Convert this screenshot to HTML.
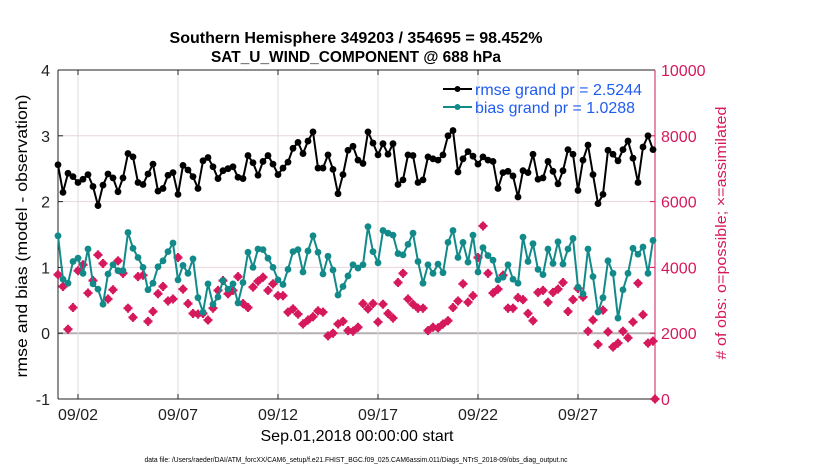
<!DOCTYPE html>
<html><head><meta charset="utf-8"><style>
html,body{margin:0;padding:0;background:#fff;}
svg{display:block;font-family:"Liberation Sans",sans-serif;}
</style></head><body>
<svg id="chart" width="830" height="470" viewBox="0 0 830 470" xmlns="http://www.w3.org/2000/svg">
<text x="356" y="43" text-anchor="middle" font-size="16" font-weight="bold" textLength="373" lengthAdjust="spacingAndGlyphs">Southern Hemisphere 349203 / 354695 = 98.452%</text>
<text x="356" y="62" text-anchor="middle" font-size="16" font-weight="bold" textLength="290" lengthAdjust="spacingAndGlyphs">SAT_U_WIND_COMPONENT @ 688 hPa</text>
<g id="grid"></g>
<g id="axes"></g>
<g id="series"></g>
<text transform="translate(27,236) rotate(-90)" text-anchor="middle" font-size="15.5" textLength="283" lengthAdjust="spacingAndGlyphs">rmse and bias (model - observation)</text>
<text transform="translate(726,233) rotate(-90)" text-anchor="middle" font-size="14.5" fill="#d6185c" textLength="253" lengthAdjust="spacingAndGlyphs"># of obs: o=possible; ×=assimilated</text>
<text x="357" y="441" text-anchor="middle" font-size="16" textLength="193" lengthAdjust="spacingAndGlyphs">Sep.01,2018 00:00:00 start</text>
<text x="356" y="462" text-anchor="middle" font-size="7.5" textLength="423" lengthAdjust="spacingAndGlyphs">data file: /Users/raeder/DAI/ATM_forcXX/CAM6_setup/f.e21.FHIST_BGC.f09_025.CAM6assim.011/Diags_NTrS_2018-09/obs_diag_output.nc</text>
<g>
<line x1="443" y1="89" x2="472" y2="89" stroke="#000" stroke-width="2"/>
<circle cx="457.5" cy="89" r="3" fill="#000"/>
<text x="475" y="95" font-size="16" fill="#1f5cf0" textLength="167" lengthAdjust="spacingAndGlyphs">rmse grand pr = 2.5244</text>
<line x1="443" y1="107" x2="472" y2="107" stroke="#138a8a" stroke-width="2"/>
<circle cx="457.5" cy="107" r="3" fill="#138a8a"/>
<text x="475" y="113" font-size="16" fill="#1f5cf0" textLength="160" lengthAdjust="spacingAndGlyphs">bias grand pr = 1.0288</text>
</g>
</svg>
<script>
const dateTicks = ["09/02","09/07","09/12","09/17","09/22","09/27"];
const dateTickDays = [1,6,11,16,21,26];
const leftTicks = [4,3,2,1,0,-1];
const rightTicks = [10000,8000,6000,4000,2000,0];
const rmse = [2.56,2.14,2.43,2.38,2.29,2.34,2.41,2.23,1.94,2.25,2.42,2.36,2.15,2.36,2.73,2.68,2.29,2.26,2.42,2.57,2.16,2.20,2.40,2.44,2.11,2.55,2.48,2.38,2.20,2.62,2.67,2.53,2.35,2.47,2.50,2.53,2.37,2.35,2.70,2.59,2.40,
2.61,2.70,2.57,2.41,2.51,2.60,2.81,2.90,2.73,2.92,3.06,2.51,2.51,2.71,2.49,2.12,2.41,2.78,2.84,2.63,2.58,3.06,2.89,2.71,2.88,2.72,2.88,2.26,2.33,2.71,2.70,2.29,2.33,2.68,2.65,2.63,2.71,3.00,3.08,2.45,
2.65,2.76,2.69,2.57,2.68,2.63,2.61,2.20,2.44,2.46,2.39,2.07,2.47,2.44,2.72,2.34,2.36,2.61,2.46,2.27,2.47,2.79,2.72,2.17,2.63,2.86,2.41,1.97,2.11,2.78,2.72,2.62,2.79,2.92,2.66,2.29,2.83,3.00,2.79];
const bias = [1.48,0.82,0.76,1.09,1.14,0.91,1.28,0.75,0.67,0.44,0.90,1.04,0.95,0.95,1.53,1.29,1.15,1.00,0.66,0.76,1.01,1.10,1.24,1.37,0.81,1.03,0.91,1.13,0.54,0.32,0.75,0.44,0.55,0.80,0.67,0.75,0.46,0.77,1.23,1.00,1.28,
1.27,1.14,1.00,0.81,0.74,0.97,1.24,1.27,0.93,1.25,1.48,1.23,0.90,1.17,0.96,0.58,0.71,0.87,1.04,0.99,1.04,1.62,1.24,1.07,1.56,1.52,1.49,1.21,1.19,1.35,1.52,1.09,0.76,1.04,0.91,1.05,0.92,1.38,1.56,1.15,
1.38,1.08,1.49,0.93,1.30,1.18,1.11,0.81,0.85,1.04,0.82,0.76,1.46,1.09,1.36,0.97,0.89,1.28,1.06,1.39,1.05,1.28,1.44,0.70,0.60,1.28,0.86,0.32,0.54,1.10,0.91,0.23,0.66,0.91,1.29,1.20,1.31,0.91,1.41];
const obsCount = [3780,3420,2120,2780,3900,4080,3220,3600,4380,4120,3040,3320,4200,3820,2760,2480,3720,3760,2360,2660,3200,3420,2980,3040,4300,3340,2900,2600,2580,2600,2400,2760,3300,3600,3200,3300,3720,2900,2780,3400,3580,
3700,3300,3500,3140,3140,2640,2740,2580,2280,2400,2500,2680,2640,1920,2000,2280,2360,2080,2060,2180,2900,2740,2900,2340,2880,2600,2460,3540,3820,3040,2880,2760,2760,2080,2180,2160,2280,2380,2780,2980,
3500,2940,3140,4300,5260,3820,3220,3340,3760,2760,2760,3080,3020,2600,2380,3240,3300,2940,3240,3340,3540,2660,3020,3360,3100,2060,2400,1660,2700,2040,1580,1700,2060,1860,2340,3520,2560,1700,1760,0];

const X0=58, X1=655, Y0=70, Y1=399, DAYPX=20;
const xDay = d => X0 + d*DAYPX;
const xIdx = i => xDay(Math.min(i*0.25, (X1-X0)/DAYPX));
const yL = v => Y1 - (v+1)/5*(Y1-Y0);
const yR = c => Y1 - c/10000*(Y1-Y0);
const NS="http://www.w3.org/2000/svg";
function mk(tag, attrs, parent){const e=document.createElementNS(NS,tag);for(const k in attrs)e.setAttribute(k,attrs[k]);parent.appendChild(e);return e;}
const grid=document.getElementById('grid'), axes=document.getElementById('axes'), ser=document.getElementById('series');

leftTicks.forEach(v=>{
  const y=yL(v);
  if(v!==4 && v!==-1){const g=mk('line',{x1:X0,x2:X1,y1:y,y2:y,stroke:v===0?'#b5b0b3':'#ecd3de','stroke-width':v===0?2:1},grid);
  
  }
  mk('line',{x1:X0,x2:X0+5,y1:y,y2:y,stroke:'#222'},axes);
  const t=mk('text',{x:X0-8,y:y+6,'text-anchor':'end','font-size':16,fill:'#222'},axes);
  t.textContent=v;
  
  
});
rightTicks.forEach(c=>{
  const y=yR(c);
  mk('line',{x1:X1-5,x2:X1,y1:y,y2:y,stroke:'#d6185c'},axes);
  const t=mk('text',{x:X1+6,y:y+6,'font-size':16,fill:'#d6185c'},axes);
  t.textContent=c;
  
  
});
dateTicks.forEach((lab,k)=>{
  const x=xDay(dateTickDays[k]);
  const g=mk('line',{x1:x,x2:x,y1:Y0,y2:Y1,stroke:'#dcdcdc'},grid);
  
  
  mk('line',{x1:x,x2:x,y1:Y1,y2:Y1-5,stroke:'#222'},axes);
  mk('line',{x1:x,x2:x,y1:Y0,y2:Y0+5,stroke:'#222'},axes);
  const t=mk('text',{x:x,y:Y1+21,'text-anchor':'middle','font-size':16,fill:'#222'},axes);
  t.textContent=lab;
  
  
});
mk('line',{x1:X0,x2:X1,y1:Y0,y2:Y0,stroke:'#222'},axes);
mk('line',{x1:X0,x2:X1,y1:Y1,y2:Y1,stroke:'#222'},axes);
mk('line',{x1:X0,x2:X0,y1:Y0,y2:Y1,stroke:'#222'},axes);
mk('line',{x1:X1,x2:X1,y1:Y0,y2:Y1,stroke:'#d6185c'},axes);

obsCount.forEach((c,i)=>{
  const x=xIdx(i), y=yR(c);
  const g=mk('g',{},ser);
  
  
  mk('circle',{cx:x,cy:y,r:3.6,fill:'#d6185c'},g);
  mk('path',{d:`M${x-4.5},${y}H${x+4.5}M${x},${y-4.5}V${y+4.5}`,stroke:'#d6185c','stroke-width':2.2},g);
});
function line(arr,color,name){
  const pts=arr.map((v,i)=>xIdx(i).toFixed(1)+','+yL(v).toFixed(1)).join(' ');
  const pl=mk('polyline',{points:pts,fill:'none',stroke:color,'stroke-width':2},ser);
  
  
  arr.forEach((v,i)=>{
    const c=mk('circle',{cx:xIdx(i),cy:yL(v),r:3.4,fill:color},ser);
    
    
  });
}
line(bias,'#138a8a','bias');
line(rmse,'#000','rmse');
</script>
</body></html>
